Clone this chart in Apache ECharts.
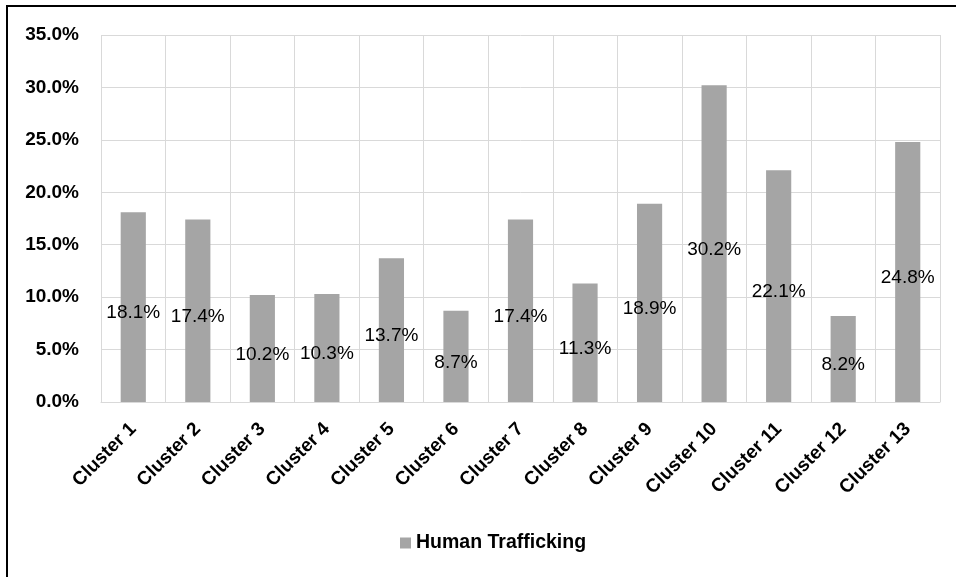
<!DOCTYPE html>
<html>
<head>
<meta charset="utf-8">
<script src="https://cdn.jsdelivr.net/npm/echarts@6/dist/echarts.min.js"></script>
<style>
html,body{margin:0;padding:0;background:#fff;}
#chart{width:956px;height:577px;}
</style>
</head>
<body>
<div id="chart"></div>
<script>
const categories = ['Cluster 1','Cluster 2','Cluster 3','Cluster 4','Cluster 5','Cluster 6','Cluster 7','Cluster 8','Cluster 9','Cluster 10','Cluster 11','Cluster 12','Cluster 13'];
const seriesName = 'Human Trafficking';
const humanTrafficking = [18.1, 17.4, 10.2, 10.3, 13.7, 8.7, 17.4, 11.3, 18.9, 30.2, 22.1, 8.2, 24.8];
const yMin = 0, yMax = 35, yStep = 5;

const sans = '"Liberation Sans",Arial,sans-serif';

const chart = echarts.init(document.getElementById('chart'), null, {renderer:'canvas'});
chart.setOption({
  animation: false,
  backgroundColor: '#ffffff',
  graphic: [{
    type: 'rect',
    shape: {x: 7, y: 6, width: 2000, height: 2000},
    style: {fill: 'none', stroke: '#000', lineWidth: 2},
    silent: true
  }],
  grid: {left: 101, right: 16, top: 35, bottom: 175, containLabel: false},
  legend: {
    data: [seriesName],
    bottom: 19,
    left: 395,
    itemWidth: 11,
    itemHeight: 11,
    icon: 'rect',
    itemGap: 6,
    textStyle: {fontFamily: sans, fontWeight: 'bold', fontSize: 19.5, color: '#000'}
  },
  xAxis: {
    type: 'category',
    data: categories,
    boundaryGap: true,
    axisLine: {show: true, lineStyle: {color: '#d9d9d9', width: 1}},
    axisTick: {show: false},
    splitLine: {show: true, lineStyle: {color: '#d9d9d9', width: 1}},
    axisLabel: {
      interval: 0, rotate: 45, margin: 24,
      fontFamily: sans, fontWeight: 'bold', fontSize: 19, color: '#000'
    }
  },
  yAxis: {
    type: 'value',
    min: yMin, max: yMax, interval: yStep,
    axisLine: {show: false},
    axisTick: {show: false},
    splitLine: {show: true, lineStyle: {color: '#d9d9d9', width: 1}},
    axisLabel: {
      margin: 22,
      formatter: v => v.toFixed(1) + '%',
      fontFamily: sans, fontWeight: 'bold', fontSize: 19, color: '#000'
    }
  },
  series: [{
    name: seriesName,
    type: 'bar',
    data: humanTrafficking,
    barWidth: '39%',
    itemStyle: {color: '#a5a5a5'},
    label: {
      show: true,
      position: 'inside',
      offset: [0, 6],
      formatter: p => p.value.toFixed(1) + '%',
      fontFamily: sans, fontSize: 19, color: '#000'
    }
  }]
});
</script>
</body>
</html>
